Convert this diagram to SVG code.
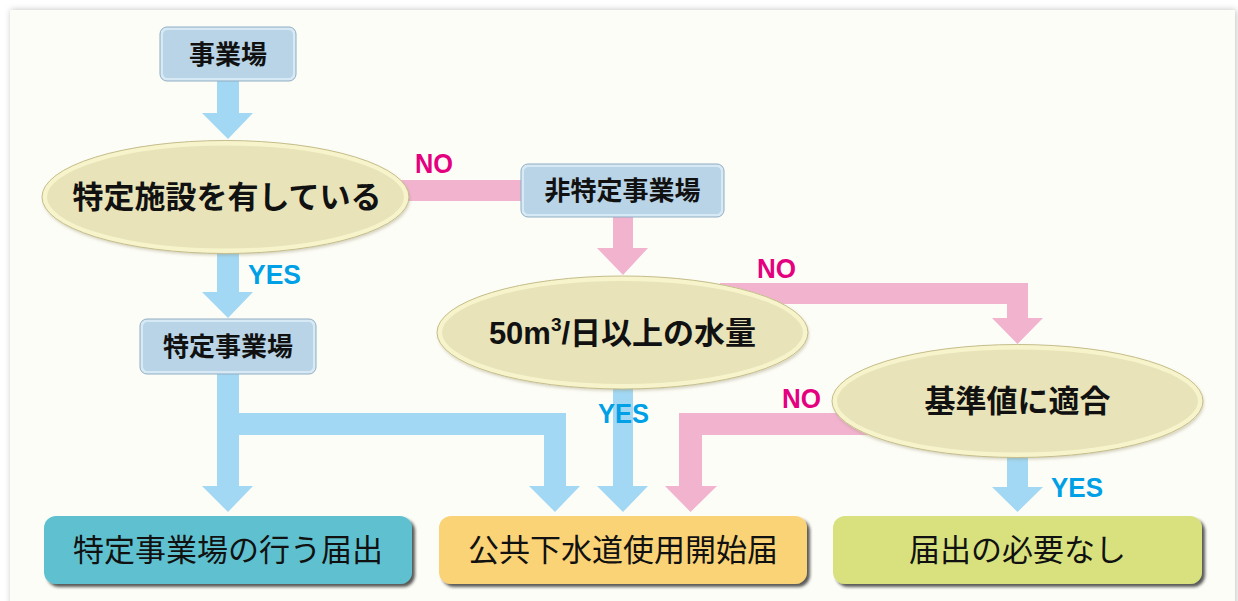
<svg xmlns="http://www.w3.org/2000/svg" width="1238" height="601" viewBox="0 0 1238 601">
<defs>
<style>
.blue{fill:#a2d8f4}
.pink{fill:#f2b3cf}
.sbox{fill:#b8d4e6;stroke:#d6e9f5;stroke-width:3}
.sboxo{fill:none;stroke:#8facc2;stroke-width:1}
.ell{fill:#e8e3b8;stroke:#f7f4cc;stroke-width:5}
.ello{fill:none;stroke:#c5bd8c;stroke-width:1}
.bt{font-family:"Liberation Sans","Noto Sans CJK JP",sans-serif;font-weight:bold;fill:#111;text-anchor:middle;dominant-baseline:central}
.rt{font-family:"Liberation Sans","Noto Sans CJK JP",sans-serif;fill:#111;text-anchor:middle;dominant-baseline:central;font-size:31px}
.yes{font-family:"Liberation Sans","Noto Sans",sans-serif;font-weight:bold;fill:#00a0e6;font-size:27px}
.no{font-family:"Liberation Sans","Noto Sans",sans-serif;font-weight:bold;fill:#e4007f;font-size:27px}
</style>
<filter id="panelsh" x="-5%" y="-5%" width="110%" height="110%">
<feDropShadow dx="1" dy="0" stdDeviation="3" flood-color="#000" flood-opacity="0.25"/>
</filter>
<filter id="boxsh" x="-10%" y="-20%" width="120%" height="140%">
<feDropShadow dx="3" dy="3" stdDeviation="1.5" flood-color="#222" flood-opacity="0.75"/>
</filter>
<filter id="ellsh" x="-10%" y="-20%" width="120%" height="140%">
<feDropShadow dx="1" dy="2" stdDeviation="1.5" flood-color="#8a8460" flood-opacity="0.35"/>
</filter>
</defs>
<rect width="1238" height="601" fill="#ffffff"/>
<rect x="10" y="10" width="1225" height="600" fill="#fdfdf7" filter="url(#panelsh)"/>

<g id="connectors">
<path class="blue" d="M217,81 H239 V113 H253 L228,139 L202,113 H217 Z"/>
<path class="blue" d="M217,250 H239 V292 H253 L228,318 L202,292 H217 Z"/>
<path class="blue" d="M217,374 H239 V486 H253 L228,512 L202,486 H217 Z"/>
<path class="blue" d="M239,413 H566 V486 H580 L555,512 L529,486 H544 V435 H239 Z"/>
<path class="blue" d="M613,385 H633 V486 H648 L623,512 L597,486 H613 Z"/>
<path class="blue" d="M1007,455 H1028 V487 H1043 L1017.5,512 L992,487 H1007 Z"/>
<path class="pink" d="M400,180 H522 V201 H400 Z"/>
<path class="pink" d="M613,215 H633 V248 H648 L623,275 L597,248 H613 Z"/>
<path class="pink" d="M720,283 H1028 V318 H1043 L1017.5,344 L992,318 H1007 V304 H720 Z"/>
<path class="pink" d="M900,413 V435 H702 V486 H717 L690.5,512 L665,486 H679 V413 Z"/>
</g>

<g id="n-jigyojo">
<rect class="sbox" x="161.5" y="28.5" width="133" height="51" rx="6"/>
<rect class="sboxo" x="160" y="27" width="136" height="54" rx="7"/>
<text class="bt" x="228" y="55" font-size="26">事業場</text>
</g>

<g id="n-tokutei-shisetsu">
<ellipse class="ell" cx="225.5" cy="197" rx="181" ry="54" filter="url(#ellsh)"/>
<ellipse class="ello" cx="225.5" cy="197" rx="183.5" ry="56.5"/>
<text class="bt" x="227" y="197" font-size="31">特定施設を有している</text>
</g>

<g id="n-hitokutei">
<rect class="sbox" x="522.5" y="165.5" width="200" height="50" rx="6"/>
<rect class="sboxo" x="521" y="164" width="203" height="53" rx="7"/>
<text class="bt" x="622.5" y="191" font-size="26">非特定事業場</text>
</g>

<g id="n-tokutei-jigyojo">
<rect class="sbox" x="141.5" y="320.5" width="173" height="52" rx="6"/>
<rect class="sboxo" x="140" y="319" width="176" height="55" rx="7"/>
<text class="bt" x="228" y="347" font-size="26">特定事業場</text>
</g>

<g id="n-suiryo">
<ellipse class="ell" cx="622.5" cy="332.5" rx="183" ry="54" filter="url(#ellsh)"/>
<ellipse class="ello" cx="622.5" cy="332.5" rx="185.5" ry="56.5"/>
<text class="bt" x="622.5" y="333" font-size="31">50m<tspan font-size="19" dy="-9">3</tspan><tspan dy="9">/日以上の水量</tspan></text>
</g>

<g id="n-kijun">
<ellipse class="ell" cx="1017.5" cy="401" rx="183" ry="54" filter="url(#ellsh)"/>
<ellipse class="ello" cx="1017.5" cy="401" rx="185.5" ry="56.5"/>
<text class="bt" x="1017.5" y="401" font-size="31">基準値に適合</text>
</g>

<g id="n-todokede-tokutei">
<rect x="44" y="516" width="368" height="68" rx="12" fill="#5ec1d0" filter="url(#boxsh)"/>
<text class="rt" x="228" y="550">特定事業場の行う届出</text>
</g>

<g id="n-koukyou">
<rect x="439" y="516" width="368" height="68" rx="12" fill="#fad376" filter="url(#boxsh)"/>
<text class="rt" x="623" y="550">公共下水道使用開始届</text>
</g>

<g id="n-fuyou">
<rect x="833" y="516" width="369" height="68" rx="12" fill="#d8e17e" filter="url(#boxsh)"/>
<text class="rt" x="1017.5" y="550">届出の必要なし</text>
</g>

<g id="labels">
<text class="no" x="415" y="173" textLength="38" lengthAdjust="spacingAndGlyphs">NO</text>
<text class="no" x="757" y="278" textLength="39" lengthAdjust="spacingAndGlyphs">NO</text>
<text class="no" x="782" y="408" textLength="39" lengthAdjust="spacingAndGlyphs">NO</text>
<text class="yes" x="248" y="284" textLength="53" lengthAdjust="spacingAndGlyphs">YES</text>
<text class="yes" x="598" y="423" textLength="51" lengthAdjust="spacingAndGlyphs">YES</text>
<text class="yes" x="1051" y="497" textLength="52" lengthAdjust="spacingAndGlyphs">YES</text>
</g>
</svg>
